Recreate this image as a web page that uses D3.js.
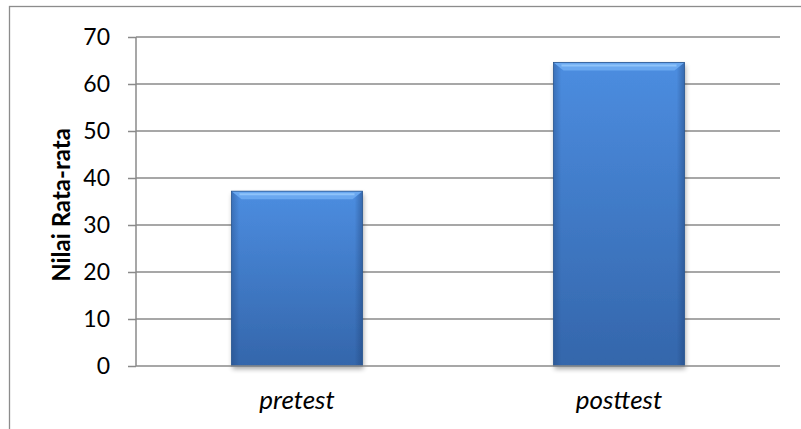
<!DOCTYPE html>
<html><head><meta charset="utf-8">
<script src="https://cdn.jsdelivr.net/npm/d3@7"></script>
<style>body{margin:0;background:#fff}svg{display:block}</style>
</head><body>
<script>
const categories = ["pretest", "posttest"];
const values = [37.2, 64.6];
const yTicks = [0, 10, 20, 30, 40, 50, 60, 70];
const yTitle = "Nilai Rata-rata";

const W = 801, H = 429;
const svg = d3.select("body").append("svg").attr("width", W).attr("height", H);
const defs = svg.append("defs");
const g1 = defs.append("linearGradient").attr("id","barV").attr("x1",0).attr("y1",0).attr("x2",0).attr("y2",1);
g1.append("stop").attr("offset","0%").attr("stop-color","#4c8de0");
g1.append("stop").attr("offset","100%").attr("stop-color","#3466ab");
const g2 = defs.append("linearGradient").attr("id","barH").attr("x1",0).attr("y1",0).attr("x2",1).attr("y2",0);
g2.append("stop").attr("offset","0%").attr("stop-color","#1d3f73").attr("stop-opacity",0.35);
g2.append("stop").attr("offset","6%").attr("stop-color","#1d3f73").attr("stop-opacity",0);
g2.append("stop").attr("offset","94%").attr("stop-color","#1d3f73").attr("stop-opacity",0);
g2.append("stop").attr("offset","100%").attr("stop-color","#1d3f73").attr("stop-opacity",0.45);
const f = defs.append("filter").attr("id","sh").attr("x","-10%").attr("y","-10%").attr("width","130%").attr("height","130%");
f.append("feGaussianBlur").attr("in","SourceAlpha").attr("stdDeviation",2.5);
f.append("feOffset").attr("dx",1).attr("dy",3).attr("result","b");
f.append("feComponentTransfer").append("feFuncA").attr("type","linear").attr("slope",0.35);
const fm = f.append("feMerge"); fm.append("feMergeNode"); fm.append("feMergeNode").attr("in","SourceGraphic");

svg.append("rect").attr("x",9.5).attr("y",6.5).attr("width",820).attr("height",440)
  .attr("fill","none").attr("stroke","#8c8c8c").attr("stroke-width",1.3);

const x0 = 136, x1 = 780, yTop = 37, yBot = 366;
const x = d3.scaleBand().domain(categories).range([x0, x1]).paddingInner(0.593).paddingOuter(0.2965);
const y = d3.scaleLinear().domain([0, 70]).range([yBot, yTop]);
const font = "Lato, 'Open Sans', sans-serif";

svg.append("g").selectAll("line").data(yTicks.filter(d=>d>0)).join("line")
  .attr("x1", x0).attr("x2", x1).attr("y1", d=>y(d)).attr("y2", d=>y(d))
  .attr("stroke","#8a8a8a").attr("stroke-width",1.5);

const ya = svg.append("g").attr("transform",`translate(${x0},0)`)
  .call(d3.axisLeft(y).tickValues(yTicks).tickSize(8).tickPadding(18));
ya.attr("font-size",null).attr("font-family",null);
ya.select(".domain").attr("stroke","#8a8a8a").attr("stroke-width",1.5).attr("d",`M0,${yTop}V${yBot}`);
ya.selectAll(".tick line").attr("stroke","#8a8a8a").attr("stroke-width",1.5);
ya.selectAll("text").style("font-family",font).style("font-size","23px").attr("fill","#000");

const bars = svg.append("g").selectAll("g").data(categories).join("g");
bars.append("rect").attr("x",d=>x(d)).attr("width",x.bandwidth())
  .attr("y",(d,i)=>y(values[i])).attr("height",(d,i)=>y(0)-y(values[i]))
  .attr("fill","url(#barV)").attr("filter","url(#sh)");
bars.append("rect").attr("x",d=>x(d)).attr("width",x.bandwidth())
  .attr("y",(d,i)=>y(values[i])).attr("height",(d,i)=>y(0)-y(values[i]))
  .attr("fill","url(#barH)");
bars.append("path").attr("d",(d,i)=>{
  const bx=x(d), bw=x.bandwidth(), by=y(values[i]);
  return `M${bx},${by}H${bx+bw}L${bx+bw-10},${by+8}H${bx+10}Z`;
}).attr("fill","#6aa8f0");
bars.append("line").attr("x1",d=>x(d)+8).attr("x2",d=>x(d)+x.bandwidth()-8)
  .attr("y1",(d,i)=>y(values[i])+3).attr("y2",(d,i)=>y(values[i])+3)
  .attr("stroke","#8ec3fa").attr("stroke-width",2);
bars.append("rect").attr("x",d=>x(d)).attr("width",x.bandwidth())
  .attr("y",(d,i)=>y(values[i])).attr("height",(d,i)=>y(0)-y(values[i]))
  .attr("fill","none").attr("stroke","#2a568f").attr("stroke-width",0.8);

svg.append("line").attr("x1",x0).attr("x2",x1).attr("y1",yBot).attr("y2",yBot)
  .attr("stroke","#8a8a8a").attr("stroke-width",1.5);

svg.append("g").selectAll("text").data(categories).join("text")
  .attr("x",d=>x(d)+x.bandwidth()/2).attr("y",409).attr("text-anchor","middle")
  .style("font-family",font).style("font-size","26px").style("font-style","italic").text(d=>d);

svg.append("text").attr("transform",`translate(70,205) rotate(-90)`).attr("text-anchor","middle")
  .style("font-family",font).style("font-size","24px").style("font-weight","bold").text(yTitle);
</script>
</body></html>
